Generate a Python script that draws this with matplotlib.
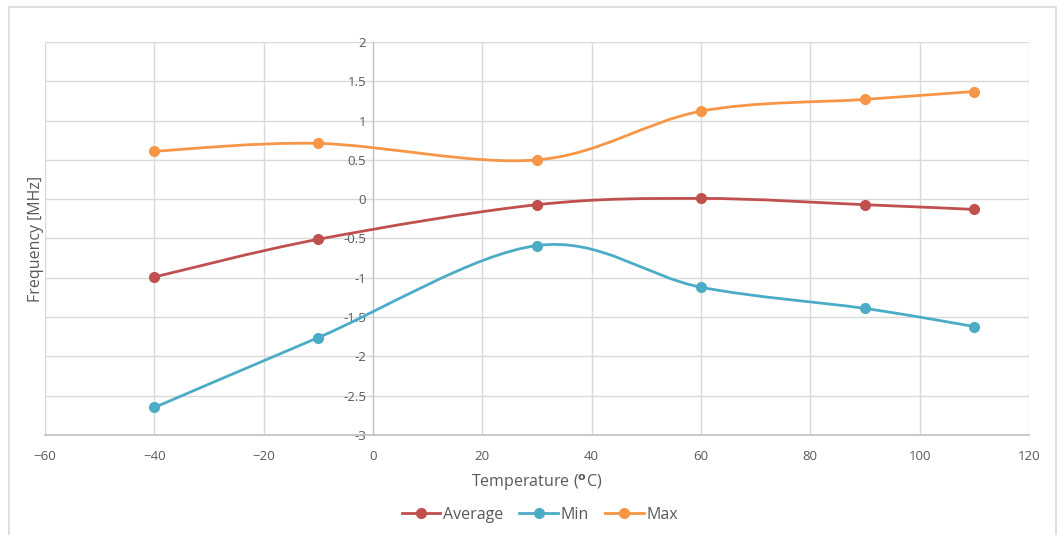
import matplotlib.pyplot as plt
from matplotlib.path import Path
from matplotlib.patches import PathPatch, Rectangle
from matplotlib.lines import Line2D

plt.rcParams['font.family'] = ['Open Sans', 'DejaVu Sans']

temps = [-40, -10, 30, 60, 90, 110]
avg = [-0.99, -0.51, -0.07, 0.01, -0.07, -0.13]
mins = [-2.65, -1.76, -0.59, -1.12, -1.39, -1.62]
maxs = [0.61, 0.71, 0.50, 1.12, 1.27, 1.37]

series = [("Average", avg, "#C0504D"), ("Min", mins, "#4BACC6"), ("Max", maxs, "#F79646")]


def smooth_path(xs, ys):
    # Catmull-Rom style bezier control points, like Excel's smoothed line
    pts = list(zip(xs, ys))
    verts = [pts[0]]
    codes = [Path.MOVETO]
    n = len(pts)
    for i in range(n - 1):
        p0 = pts[i - 1] if i > 0 else pts[i]
        p1 = pts[i]
        p2 = pts[i + 1]
        p3 = pts[i + 2] if i + 2 < n else pts[i + 1]
        c1 = (p1[0] + (p2[0] - p0[0]) / 6, p1[1] + (p2[1] - p0[1]) / 6)
        c2 = (p2[0] - (p3[0] - p1[0]) / 6, p2[1] - (p3[1] - p1[1]) / 6)
        verts += [c1, c2, p2]
        codes += [Path.CURVE4] * 3
    return Path(verts, codes)


fig = plt.figure(figsize=(10.6, 5.35), dpi=100)
fig.patches.append(Rectangle((9 / 1060, -0.05), 1047 / 1060, 1 - 7 / 535 + 0.05,
                             transform=fig.transFigure, fill=False,
                             edgecolor="#D9D9D9", linewidth=1.2))
ax = fig.add_axes([45 / 1060, 1 - 435 / 535, 984 / 1060, 393 / 535])

handles = []
for name, vals, col in series:
    ax.add_patch(PathPatch(smooth_path(temps, vals), fill=False, edgecolor=col,
                           linewidth=2, zorder=3, capstyle='round'))
    ax.plot(temps, vals, 'o', color=col, markersize=7, zorder=4)
    handles.append(Line2D([], [], color=col, linewidth=2, marker='o', markersize=7))

ax.set_xlim(-60, 120)
ax.set_ylim(-3, 2)
ax.set_xticks(range(-60, 121, 20))
ax.set_yticks([-3, -2.5, -2, -1.5, -1, -0.5, 0, 0.5, 1, 1.5, 2])
ax.set_yticklabels(["-3", "-2.5", "-2", "-1.5", "-1", "-0.5", "0", "0.5", "1", "1.5", "2"])
ax.grid(True, color="#D9D9D9", linewidth=1)
ax.set_axisbelow(True)

for s in ['top', 'right']:
    ax.spines[s].set_visible(False)
ax.spines['left'].set_position(('data', 0))
ax.spines['left'].set_color("#BFBFBF")
ax.spines['bottom'].set_color("#BFBFBF")
ax.spines['bottom'].set_linewidth(1.2)
ax.tick_params(length=0, labelsize=9.5, colors="#595959")
ax.tick_params(axis='x', pad=11)
ax.tick_params(axis='y', pad=5)

ax.set_ylabel("Frequency [MHz]", fontsize=11.5, color="#595959")
ax.yaxis.set_label_coords(-0.001, 0.5)
ax.set_xlabel(r"Temperature ($^{\mathbf{o}}$C)", fontsize=11.5, color="#595959")
ax.xaxis.set_label_coords(0.5, -0.095)

fig.legend(handles, [s[0] for s in series], loc='center', bbox_to_anchor=(540 / 1060, 1 - 515 / 535),
           ncol=3, frameon=False, fontsize=11.5, labelcolor="#595959",
           handlelength=2.4, handletextpad=0.2, columnspacing=1.0)

fig.savefig("out.png", dpi=100)
